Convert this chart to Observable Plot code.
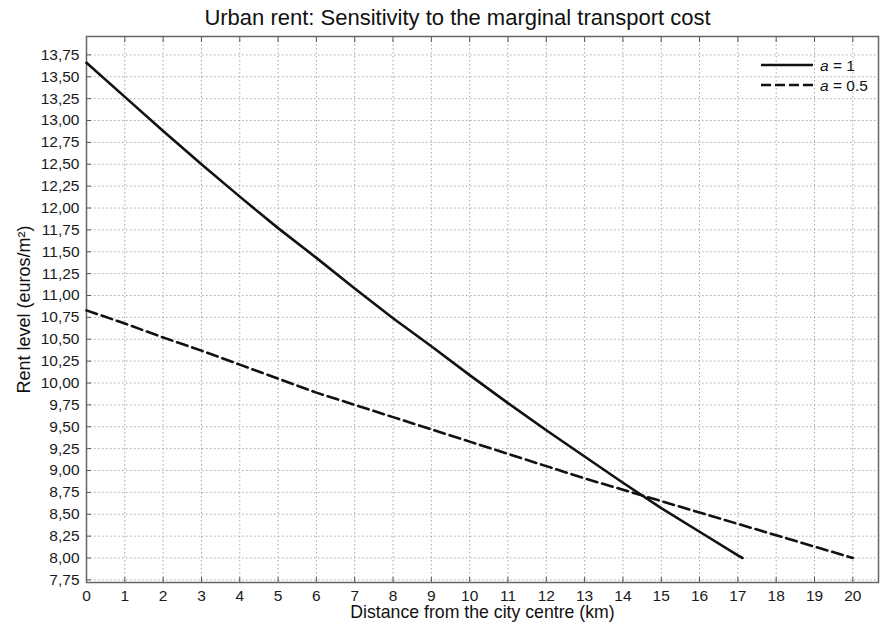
<!DOCTYPE html>
<html>
<head>
<meta charset="utf-8">
<script src="https://cdn.jsdelivr.net/npm/d3@7"></script>
<script src="https://cdn.jsdelivr.net/npm/@observablehq/plot@0.6"></script>
<style>
  html, body { margin: 0; padding: 0; background: #fff; }
  #wrap { position: relative; width: 881px; height: 626px; font-family: "Liberation Sans", Arial, Helvetica, sans-serif; }
  #legend { position: absolute; left: 0; top: 0; }
</style>
</head>
<body>
<div id="wrap"></div>
<script>
// Distance from the city centre (km)
const distA1 = [0, 1, 2, 3, 4, 5, 6, 7, 8, 9, 10, 11, 12, 13, 14, 15, 16, 17, 17.12];
// Rent level, a = 1
const rentA1 = [13.66, 13.27, 12.88, 12.50, 12.13, 11.77, 11.43, 11.08, 10.74, 10.42, 10.09, 9.77, 9.46, 9.16, 8.86, 8.57, 8.30, 8.03, 8.00];
const distA05 = [0, 1, 2, 3, 4, 5, 6, 7, 8, 9, 10, 11, 12, 13, 14, 15, 16, 17, 18, 19, 20];
// Rent level, a = 0.5
const rentA05 = [10.83, 10.68, 10.52, 10.37, 10.21, 10.05, 9.89, 9.75, 9.61, 9.47, 9.33, 9.19, 9.05, 8.91, 8.78, 8.65, 8.52, 8.39, 8.26, 8.13, 8.00];

const xTicks = [0, 1, 2, 3, 4, 5, 6, 7, 8, 9, 10, 11, 12, 13, 14, 15, 16, 17, 18, 19, 20];
const yTicks = [7.75, 8.00, 8.25, 8.50, 8.75, 9.00, 9.25, 9.50, 9.75, 10.00, 10.25, 10.50, 10.75, 11.00, 11.25, 11.50, 11.75, 12.00, 12.25, 12.50, 12.75, 13.00, 13.25, 13.50, 13.75];

const seriesLabels = ["a = 1", "a = 0.5"];
const titleText = "Urban rent: Sensitivity to the marginal transport cost";
const xLabel = "Distance from the city centre (km)";
const yLabel = "Rent level (euros/m²)";

const a1 = distA1.map((d, i) => ({x: d, y: rentA1[i]}));
const a05 = distA05.map((d, i) => ({x: d, y: rentA05[i]}));

const font = "Liberation Sans, Arial, Helvetica, sans-serif";
const fmt = d => d.toFixed(2).replace(".", ",");

const chart = Plot.plot({
  width: 881,
  height: 626,
  marginLeft: 86,
  marginRight: 3,
  marginTop: 36,
  marginBottom: 44,
  style: {fontFamily: font, fontSize: "15.5px", background: "#fff", color: "#1a1a1a"},
  x: {domain: [0, 20.67]},
  y: {domain: [7.72, 13.96]},
  marks: [
    Plot.gridX(xTicks, {stroke: "#a8a8a8", strokeOpacity: 1, strokeDasharray: "1.5,2.5"}),
    Plot.gridY(yTicks, {stroke: "#a8a8a8", strokeOpacity: 1, strokeDasharray: "1.5,2.5"}),
    Plot.axisX(xTicks, {anchor: "bottom", tickSize: -5, tickPadding: 12, fontSize: 15.5, label: null, stroke: "#555", fill: "#1a1a1a"}),
    Plot.axisX(xTicks, {anchor: "top", tickSize: -5, tickFormat: () => "", label: null, stroke: "#555"}),
    Plot.axisY(yTicks, {anchor: "left", tickSize: -5, tickPadding: 12, fontSize: 15.5, tickFormat: fmt, label: null, stroke: "#555", fill: "#1a1a1a"}),
    Plot.frame({stroke: "#666", strokeWidth: 1.5}),
    Plot.line(a05, {x: "x", y: "y", stroke: "#111", strokeWidth: 2.6, strokeDasharray: "11,5"}),
    Plot.line(a1, {x: "x", y: "y", stroke: "#111", strokeWidth: 2.6}),
    Plot.text([titleText], {text: d => d, frameAnchor: "top", lineAnchor: "middle", textAnchor: "middle", dx: -25, dy: -19, fontSize: 22, fill: "#111"}),
    Plot.text([xLabel], {text: d => d, frameAnchor: "bottom", lineAnchor: "middle", textAnchor: "middle", dy: 30, fontSize: 17.7, fill: "#111"}),
    Plot.text([yLabel], {text: d => d, frameAnchor: "left", lineAnchor: "middle", textAnchor: "middle", dx: -62, rotate: -90, fontSize: 18, fill: "#111"})
  ]
});

// make sure tick labels use the intended size
d3.select(chart).selectAll('g[aria-label$="tick label"]').attr("font-size", 15.5).selectAll("text").attr("font-size", 15.5);

const wrap = document.getElementById("wrap");
wrap.appendChild(chart);

// Legend overlay
const leg = d3.select(wrap).append("svg")
  .attr("id", "legend").attr("width", 881).attr("height", 626)
  .style("font-family", font);
const items = [
  {label: seriesLabels[0], dash: null, y: 65},
  {label: seriesLabels[1], dash: "10,4", y: 85}
];
items.forEach(it => {
  leg.append("line").attr("x1", 761).attr("x2", 813).attr("y1", it.y).attr("y2", it.y)
    .attr("stroke", "#111").attr("stroke-width", 2.6).attr("stroke-dasharray", it.dash);
  const parts = it.label.split(" ");
  const t = leg.append("text").attr("x", 820).attr("y", it.y + 5.5).attr("font-size", 15.5).attr("fill", "#111");
  t.append("tspan").attr("font-style", "italic").text(parts[0]);
  t.append("tspan").text(" " + parts.slice(1).join(" "));
});
</script>
</body>
</html>
